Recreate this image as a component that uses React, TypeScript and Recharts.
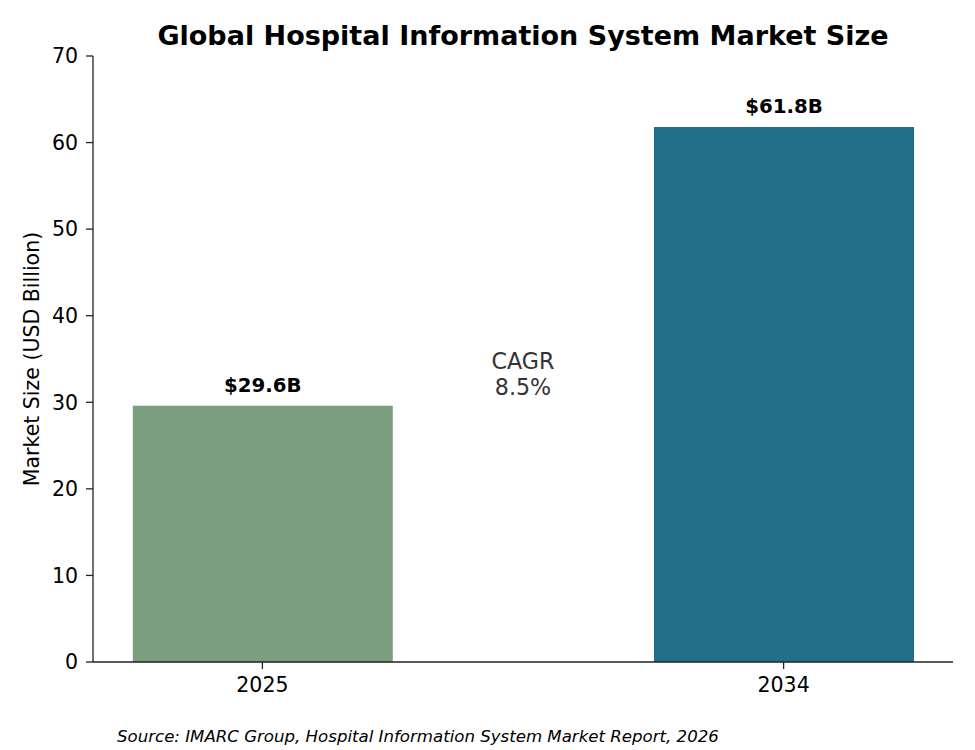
import { Bar, BarChart, Cell, LabelList, ReferenceDot, XAxis, YAxis } from 'recharts'

const YEARS = ['2025', '2034']
const MARKET_SIZE = [29.6, 61.8]
const BAR_COLORS = ['#7a9e7e', '#21708a']
const Y_TICKS = [0, 10, 20, 30, 40, 50, 60, 70]
const CAGR_LINES = ['CAGR', '8.5%']
const CAGR_ANCHOR = { x: 0.5, y: 31 }

const FONT = '"DejaVu Sans", sans-serif'
const AXIS_COLOR = '#222'

const data = YEARS.map((year, i) => ({ pos: i, year, value: MARKET_SIZE[i] }))

const BarValueLabel = (props: any) => {
  const { x, y, width, value } = props
  return (
    <text
      x={x + width / 2}
      y={y - 20.5}
      textAnchor="middle"
      dominantBaseline="central"
      fontFamily={FONT}
      fontWeight="bold"
      fontSize={19.8}
      fill="#000"
    >
      ${Number(value).toFixed(1)}B
    </text>
  )
}

const CagrLabel = (props: any) => {
  const { viewBox } = props
  const cx = viewBox.x + (viewBox.width || 0) / 2
  const cy = viewBox.y + (viewBox.height || 0) / 2
  return (
    <g>
      {CAGR_LINES.map((line, i) => (
        <text
          key={line}
          x={cx}
          y={cy - 32.6 + i * 26}
          textAnchor="middle"
          dominantBaseline="central"
          fontFamily={FONT}
          fontSize={22.2}
          fill="#333333"
        >
          {line}
        </text>
      ))}
    </g>
  )
}

const App = () => {
  return (
    <div style={{ position: 'absolute', left: 0, top: 0, width: 975, height: 750, background: '#fff', fontFamily: FONT }}>
      <div
        style={{
          position: 'absolute',
          left: 93,
          width: 860,
          top: 20,
          textAlign: 'center',
          fontWeight: 'bold',
          fontSize: 27,
          lineHeight: '32px',
          color: '#000',
        }}
      >
        Global Hospital Information System Market Size
      </div>
      <BarChart width={975} height={750} data={data} margin={{ top: 56, right: 22, bottom: 0, left: 0 }}>
        <XAxis
          dataKey="pos"
          type="number"
          domain={[-0.325, 1.325]}
          ticks={[0, 1]}
          tickFormatter={(v) => YEARS[v] ?? ''}
          height={88}
          tick={{ fill: '#000', fontSize: 20.5, fontFamily: FONT }}
          tickSize={7}
          tickMargin={8}
          axisLine={{ stroke: AXIS_COLOR, strokeWidth: 1.3 }}
          tickLine={{ stroke: AXIS_COLOR, strokeWidth: 1.3 }}
          allowDataOverflow
        />
        <YAxis
          domain={[0, 70]}
          ticks={Y_TICKS}
          width={93}
          tick={{ fill: '#000', fontSize: 20.5, fontFamily: FONT }}
          tickSize={7}
          tickMargin={8}
          axisLine={{ stroke: AXIS_COLOR, strokeWidth: 1.3 }}
          tickLine={{ stroke: AXIS_COLOR, strokeWidth: 1.3 }}
          label={{
            value: 'Market Size (USD Billion)',
            angle: -90,
            position: 'insideLeft',
            dx: 27,
            style: { textAnchor: 'middle', fill: '#000', fontSize: 20.5, fontFamily: FONT },
          }}
        />
        <Bar dataKey="value" barSize={260} isAnimationActive={false}>
          {data.map((d, i) => (
            <Cell key={d.year} fill={BAR_COLORS[i]} />
          ))}
          <LabelList dataKey="value" content={BarValueLabel} />
        </Bar>
        <ReferenceDot x={CAGR_ANCHOR.x} y={CAGR_ANCHOR.y} r={0} stroke="none" fill="none" label={<CagrLabel />} />
      </BarChart>
      <div
        style={{
          position: 'absolute',
          left: 117,
          top: 726,
          fontStyle: 'italic',
          fontSize: 16.6,
          lineHeight: '22px',
          color: '#000',
          whiteSpace: 'nowrap',
        }}
      >
        Source: IMARC Group, Hospital Information System Market Report, 2026
      </div>
    </div>
  )
}

export default App
